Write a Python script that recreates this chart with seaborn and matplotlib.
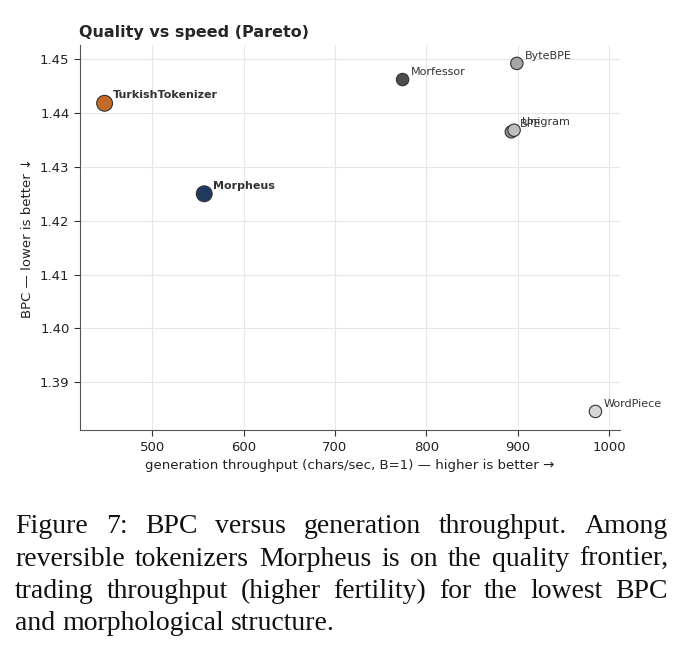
import matplotlib
matplotlib.use("Agg")
import pandas as pd
import seaborn as sns
from matplotlib import pyplot as plt

tokenizers = ["TurkishTokenizer", "Morpheus", "Morfessor", "ByteBPE", "BPE", "Unigram", "WordPiece"]
throughput = [448, 557, 774, 899, 893, 896, 985]
bpc = [1.4418, 1.4250, 1.4462, 1.4492, 1.4365, 1.4368, 1.3846]
colors = ["#c46a27", "#1f3a5f", "#4d4d4d", "#a6a6a6", "#8f8f8f", "#bdbdbd", "#d6d6d6"]
highlight = [True, True, False, False, False, False, False]

caption_lines = [
    "Figure 7: BPC versus generation throughput. Among",
    "reversible tokenizers Morpheus is on the quality frontier,",
    "trading throughput (higher fertility) for the lowest BPC",
    "and morphological structure.",
]

df = pd.DataFrame({"tokenizer": tokenizers, "throughput": throughput, "bpc": bpc,
                   "highlight": highlight})

sns.set_style("whitegrid", {"grid.color": "#e6e6e6", "axes.edgecolor": "#555555"})
plt.rcParams["font.family"] = ["DejaVu Sans"]

fig = plt.figure(figsize=(6.89, 6.63), dpi=100)
ax = fig.add_axes([0.116, 0.351, 0.784, 0.581])

palette = dict(zip(tokenizers, colors))
sns.scatterplot(data=df, x="throughput", y="bpc", hue="tokenizer", palette=palette,
                size="highlight", sizes={True: 130, False: 80}, edgecolor="#333333",
                linewidth=0.8, legend=False, ax=ax, zorder=3)

for _, row in df.iterrows():
    ax.annotate(row["tokenizer"], (row["throughput"], row["bpc"]),
                xytext=(6, 2), textcoords="offset points", va="bottom",
                fontsize=8, color="#333333",
                fontweight="bold" if row["highlight"] else "normal")

ax.set_xlim(421, 1012)
ax.set_ylim(1.3811, 1.4526)
ax.set_xticks([500, 600, 700, 800, 900, 1000])
ax.set_yticks([1.39, 1.40, 1.41, 1.42, 1.43, 1.44, 1.45])
ax.tick_params(axis="both", labelsize=9.5, colors="#333333", length=4, width=0.8,
               bottom=True, left=True)
ax.tick_params(labelcolor="#222222")
ax.set_xlabel("generation throughput (chars/sec, B=1) \u2014 higher is better \u2192",
              fontsize=9.6, color="#222222")
ax.set_ylabel("BPC \u2014 lower is better \u2193", fontsize=9.5, color="#222222")
ax.set_title("Quality vs speed (Pareto)", loc="left",
             fontsize=11.5, fontweight="bold", x=-0.001, pad=6)
sns.despine(ax=ax)

# caption, justified like the paper's text block
renderer = fig.canvas.get_renderer()
left, right = 0.022, 0.9695
fig_w = fig.get_window_extent().width
cap_size = 20
space = fig.text(0, 0, "a a", family="Liberation Serif", fontsize=cap_size)
one = fig.text(0, 0, "aa", family="Liberation Serif", fontsize=cap_size)
natural_gap = (space.get_window_extent(renderer).width
               - one.get_window_extent(renderer).width) / fig_w
space.remove()
one.remove()
for i, line in enumerate(caption_lines):
    y = 1 - (533 + i * 32.5) / 663
    words = line.split(" ")
    texts = [fig.text(left, y, w, family="Liberation Serif", fontsize=cap_size,
                      color="#111111", va="baseline") for w in words]
    widths = [t.get_window_extent(renderer).width / fig_w for t in texts]
    gap = natural_gap
    if i < len(caption_lines) - 1:
        gap = (right - left - sum(widths)) / (len(words) - 1)
    x = left
    for t, w in zip(texts, widths):
        t.set_x(x)
        x += w + gap

fig.savefig("out.png", dpi=100)
